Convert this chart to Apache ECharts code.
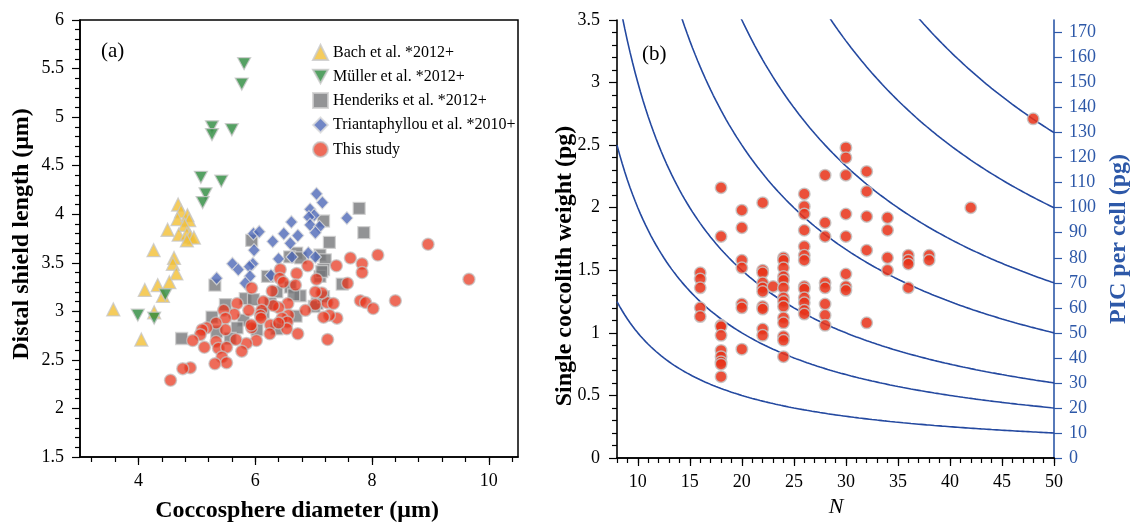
<!DOCTYPE html>
<html><head><meta charset="utf-8">
<script src="https://cdn.jsdelivr.net/npm/echarts@6/dist/echarts.min.js"></script>
<style>html,body{margin:0;padding:0;background:#fff}#c{width:1131px;height:524px}</style>
</head><body><div id="c"></div>
<script>
// ---------- Panel (a) data: coccosphere diameter (µm) vs distal shield length (µm)
const BACH_X = [4.68,4.73,4.67,4.84,4.87,4.50,4.79,4.69,4.83,4.89,4.95,4.83,4.26,4.61,4.59,4.65,4.53,4.33,4.11,4.42,3.57,4.27,4.05];
const BACH_Y = [4.10,4.03,3.95,3.99,3.94,3.84,3.89,3.79,3.80,3.77,3.76,3.73,3.63,3.55,3.49,3.39,3.30,3.27,3.22,3.16,3.02,2.99,2.71];
const MULLER_X = [5.81,5.77,5.26,5.26,5.60,5.07,5.42,5.15,5.10,4.46,3.99,4.27];
const MULLER_Y = [5.55,5.34,4.90,4.82,4.87,4.38,4.34,4.21,4.12,3.17,2.96,2.93];
const HEND_X = [7.78,7.86,7.17,7.27,5.94,6.71,6.59,6.78,7.11,7.20,7.17,7.11,6.21,7.49,5.31,6.60,6.37,6.77,6.66,5.83,5.97,5.49,7.06,6.26,6.70,5.26,5.80,5.69,5.34,6.37,4.74,6.03,5.57,7.01,7.17,6.14,7.14];
const HEND_Y = [4.06,3.81,3.93,3.71,3.73,3.60,3.56,3.55,3.58,3.53,3.43,3.36,3.36,3.28,3.27,3.25,3.20,3.16,3.17,3.13,3.12,3.07,3.08,3.08,2.95,2.94,2.91,2.83,2.79,2.82,2.72,2.81,2.72,3.05,3.15,2.99,3.41];
const TRIA_X = [7.05,7.15,6.94,7.01,6.92,7.57,6.62,6.94,7.10,7.03,5.97,6.07,6.49,6.73,6.30,6.60,5.98,6.91,7.03,6.40,6.63,5.96,5.61,5.71,5.90,6.27,5.91,5.34,5.83];
const TRIA_Y = [4.21,4.12,4.05,3.99,3.97,3.96,3.92,3.89,3.87,3.81,3.80,3.82,3.80,3.78,3.72,3.70,3.63,3.60,3.56,3.54,3.56,3.49,3.49,3.43,3.46,3.37,3.36,3.34,3.29];
const STUDY_X = [8.96,9.66,8.10,8.40,7.63,7.83,7.83,7.39,6.90,7.58,7.80,7.89,8.02,7.24,7.40,7.27,7.17,7.23,7.34,7.14,7.03,7.05,7.03,6.86,6.71,6.43,6.42,6.48,6.69,6.29,6.56,6.40,6.31,6.14,6.11,5.94,5.89,5.69,5.64,5.46,5.49,6.09,6.10,6.57,6.46,6.55,6.54,6.26,6.25,6.73,5.94,5.93,6.02,5.85,5.77,5.67,5.49,5.33,5.17,5.09,5.06,5.13,4.93,5.33,5.37,5.51,5.43,5.51,5.31,4.89,4.76,4.55,6.40];
const STUDY_Y = [3.69,3.33,3.58,3.11,3.55,3.49,3.40,3.47,3.47,3.29,3.11,3.09,3.03,2.71,2.93,2.96,2.94,3.09,3.08,3.19,3.20,3.33,3.07,3.01,3.39,3.43,3.34,3.30,3.27,3.21,3.08,3.04,3.06,3.10,3.01,3.24,3.01,3.08,2.97,3.01,2.93,2.96,2.93,2.96,2.93,2.89,2.82,2.86,2.77,2.77,2.83,2.86,2.70,2.67,2.59,2.71,2.81,2.88,2.83,2.81,2.76,2.63,2.70,2.69,2.62,2.63,2.53,2.47,2.46,2.42,2.41,2.29,2.88];
const A_LEGEND = ['Bach et al. *2012+','Müller et al. *2012+','Henderiks et al. *2012+','Triantaphyllou et al. *2010+','This study'];
const A_X_TICKS = [3.2,3.6,4,4.4,4.8,5.2,5.6,6,6.4,6.8,7.2,7.6,8,8.4,8.8,9.2,9.6,10,10.4];
const A_X_LABELS = [4,6,8,10];

// ---------- Panel (b) data: N vs single coccolith weight (pg)
const B_N = [16,16,16,16,16,
  18,18,18,18,18,18,18,18,18,18,
  20,20,20,20,20,20,20,
  22,22,22,22,22,22,22,22,22,22,
  23,
  24,24,24,24,24,24,24,24,24,24,24,24,24,24,
  26,26,26,26,26,26,26,26,26,26,26,26,26,
  28,28,28,28,28,28,28,28,
  30,30,30,30,30,30,30,30,
  32,32,32,32,32,
  34,34,34,34,
  36,36,36,36,
  38,38,
  42,
  48];
const B_W = [1.48,1.43,1.36,1.20,1.13,
  2.16,1.77,1.06,1.05,0.98,0.86,0.81,0.77,0.75,0.65,
  1.98,1.84,1.58,1.52,1.23,1.20,0.87,
  2.04,1.50,1.48,1.40,1.36,1.33,1.21,1.19,1.03,0.98,
  1.37,
  1.60,1.58,1.52,1.45,1.42,1.36,1.28,1.25,1.21,1.12,1.08,0.97,0.94,0.81,
  2.11,2.01,1.95,1.82,1.69,1.62,1.58,1.37,1.35,1.28,1.24,1.18,1.15,
  2.26,1.88,1.77,1.40,1.36,1.23,1.14,1.06,
  2.48,2.40,2.26,1.95,1.77,1.47,1.37,1.34,
  2.29,2.13,1.93,1.66,1.08,
  1.92,1.82,1.60,1.50,
  1.62,1.58,1.55,1.36,
  1.62,1.58,
  2.00,
  2.71];
// iso-PIC lines: PIC per cell = N x single coccolith weight
const PIC_LEVELS = [10,20,30,50,70,100,130];
const B_X_TICKS = [8,9,10,11,12,13,14,15,16,17,18,19,20,21,22,23,24,25,26,27,28,29,30,31,32,33,34,35,36,37,38,39,40,41,42,43,44,45,46,47,48,49,50];
const B_X_LABELS = [10,15,20,25,30,35,40,45,50];
const PIC_TICKS = [0,10,20,30,40,50,60,70,80,90,100,110,120,130,140,150,160,170];

const zip = (xs, ys) => xs.map((x, i) => [x, ys[i]]);
const FONT = '"Liberation Serif","Times New Roman",serif';
const BLUE = '#2d58a8';
const LINEBLUE = '#2449a0';

function isoLine(pic) {
  const pts = [];
  for (let n = 8; n <= 50.0001; n += 0.25) pts.push([n, pic / n]);
  return pts;
}

const axisBase = {
  axisLine: {show: true, onZero: false, lineStyle: {color: '#000', width: 1.6}},
  axisLabel: {color: '#000', fontSize: 18, fontFamily: FONT},
  splitLine: {show: false}
};

const chart = echarts.init(document.getElementById('c'), null, {renderer: 'canvas'});
const studyStyle = (op) => ({color: 'rgb(232,50,25)', opacity: op, borderColor: '#c4c4c4', borderWidth: 1.5});

chart.setOption({
  animation: false,
  backgroundColor: '#fff',
  grid: [
    {left: 80, top: 20, width: 438, height: 437, show: true, borderColor: '#000', borderWidth: 1.5, backgroundColor: 'transparent'},
    {left: 617, top: 20, width: 437, height: 438}
  ],
  legend: {
    left: 307, top: 39, orient: 'vertical', itemWidth: 15, itemHeight: 15, itemGap: 7.5,
    data: A_LEGEND,
    textStyle: {fontSize: 16, fontFamily: FONT, color: '#000'}
  },
  xAxis: [
    Object.assign({}, axisBase, {gridIndex: 0, type: 'value', min: 3, max: 10.5,
      axisTick: {show: true, length: 5, lineStyle: {color: '#000', width: 1.2}, customValues: A_X_TICKS},
      axisLabel: Object.assign({}, axisBase.axisLabel, {margin: 15, customValues: A_X_LABELS})}),
    {gridIndex: 0, type: 'value', min: 3, max: 10.5, position: 'bottom',
      axisLine: {show: false}, splitLine: {show: false}, axisLabel: {show: false},
      axisTick: {show: true, length: 8, lineStyle: {color: '#000', width: 1.2}, customValues: A_X_LABELS}},
    Object.assign({}, axisBase, {gridIndex: 1, type: 'value', min: 8, max: 50,
      axisTick: {show: true, length: 5, lineStyle: {color: '#000', width: 1.2}, customValues: B_X_TICKS},
      axisLabel: Object.assign({}, axisBase.axisLabel, {margin: 15, customValues: B_X_LABELS})}),
    {gridIndex: 1, type: 'value', min: 8, max: 50, position: 'bottom',
      axisLine: {show: false}, splitLine: {show: false}, axisLabel: {show: false},
      axisTick: {show: true, length: 8, lineStyle: {color: '#000', width: 1.2}, customValues: B_X_LABELS}},
    {gridIndex: 1, type: 'value', min: 8, max: 50, position: 'top',
      axisLine: {show: true, lineStyle: {color: '#000', width: 1.6}}, splitLine: {show: false},
      axisLabel: {show: false}, axisTick: {show: false}}
  ],
  yAxis: [
    Object.assign({}, axisBase, {gridIndex: 0, type: 'value', min: 1.5, max: 6, interval: 0.5,
      axisTick: {show: true, length: 8, lineStyle: {color: '#000', width: 1.2}},
      minorTick: {show: true, splitNumber: 5, length: 5, lineStyle: {color: '#000', width: 1.2}},
      axisLabel: Object.assign({}, axisBase.axisLabel, {margin: 16})}),
    Object.assign({}, axisBase, {gridIndex: 1, type: 'value', min: 0, max: 3.5, interval: 0.5,
      axisTick: {show: true, length: 8, lineStyle: {color: '#000', width: 1.2}},
      minorTick: {show: true, splitNumber: 5, length: 5, lineStyle: {color: '#000', width: 1.2}},
      axisLabel: Object.assign({}, axisBase.axisLabel, {margin: 17})}),
    {gridIndex: 1, type: 'value', min: 0, max: 175, position: 'right',
      axisLine: {show: true, lineStyle: {color: BLUE, width: 1.6}},
      axisTick: {show: true, length: 8, lineStyle: {color: BLUE, width: 1.2}, customValues: PIC_TICKS},
      axisLabel: {color: BLUE, fontSize: 18, fontFamily: FONT, margin: 15, customValues: PIC_TICKS},
      splitLine: {show: false}}
  ],
  series: [
    {name: A_LEGEND[0], type: 'scatter', xAxisIndex: 0, yAxisIndex: 0, symbol: 'triangle', symbolSize: 13,
      itemStyle: {color: '#f2bf33', borderColor: '#c8c8c8', borderWidth: 1.3}, data: zip(BACH_X, BACH_Y)},
    {name: A_LEGEND[1], type: 'scatter', xAxisIndex: 0, yAxisIndex: 0, symbol: 'path://M0,0L10,0L5,9Z', symbolSize: [13, 12],
      itemStyle: {color: '#2b8a3c', borderColor: '#c8c8c8', borderWidth: 1.3}, data: zip(MULLER_X, MULLER_Y)},
    {name: A_LEGEND[2], type: 'scatter', xAxisIndex: 0, yAxisIndex: 0, symbol: 'rect', symbolSize: 12,
      itemStyle: {color: '#77787b', borderColor: '#cfcfcf', borderWidth: 1.3}, data: zip(HEND_X, HEND_Y)},
    {name: A_LEGEND[3], type: 'scatter', xAxisIndex: 0, yAxisIndex: 0, symbol: 'diamond', symbolSize: [12, 13],
      itemStyle: {color: '#4d68b6', borderColor: '#dcdcdc', borderWidth: 1.2}, data: zip(TRIA_X, TRIA_Y)},
    {name: A_LEGEND[4], type: 'scatter', xAxisIndex: 0, yAxisIndex: 0, symbol: 'circle', symbolSize: 12,
      itemStyle: studyStyle(0.72), data: zip(STUDY_X, STUDY_Y)},
  ].concat(PIC_LEVELS.map(p => ({
      type: 'line', xAxisIndex: 2, yAxisIndex: 1, showSymbol: false, symbol: 'none', smooth: false, clip: true, silent: true,
      lineStyle: {color: LINEBLUE, width: 1.6}, data: isoLine(p)
    }))).concat([
    {type: 'scatter', xAxisIndex: 2, yAxisIndex: 1, symbol: 'circle', symbolSize: 11.5, z: 5,
      itemStyle: studyStyle(0.86), data: zip(B_N, B_W)}
  ]),
  graphic: [
    {type: 'text', x: 101, y: 51, style: {text: '(a)', font: '21px ' + FONT, fill: '#000', verticalAlign: 'middle'}},
    {type: 'text', x: 642, y: 54, style: {text: '(b)', font: '21px ' + FONT, fill: '#000', verticalAlign: 'middle'}},
    {type: 'text', x: 22, y: 234, rotation: Math.PI / 2, style: {text: 'Distal shield length (μm)', font: 'bold 24px ' + FONT, fill: '#000', align: 'center', verticalAlign: 'middle'}},
    {type: 'text', x: 297, y: 511, style: {text: 'Coccosphere diameter (μm)', font: 'bold 24px ' + FONT, fill: '#000', align: 'center', verticalAlign: 'middle'}},
    {type: 'text', x: 565, y: 266, rotation: Math.PI / 2, style: {text: 'Single coccolith weight (pg)', font: 'bold 24px ' + FONT, fill: '#000', align: 'center', verticalAlign: 'middle'}},
    {type: 'text', x: 836, y: 507, style: {text: 'N', font: 'italic 22px ' + FONT, fill: '#000', align: 'center', verticalAlign: 'middle'}},
    {type: 'text', x: 1119, y: 239, rotation: Math.PI / 2, style: {text: 'PIC per cell (pg)', font: 'bold 24px ' + FONT, fill: BLUE, align: 'center', verticalAlign: 'middle'}}
  ]
});
</script></body></html>
